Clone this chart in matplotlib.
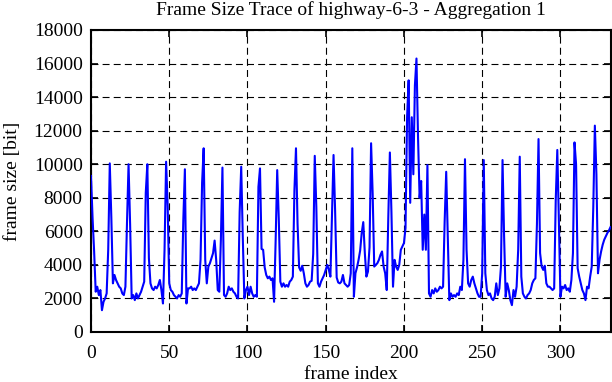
import matplotlib
matplotlib.use("Agg")
import matplotlib.pyplot as plt
import numpy as np

title = "Frame Size Trace of highway-6-3 - Aggregation 1"
x_label = "frame index"
y_label = "frame size [bit]"
x_ticks = [0, 50, 100, 150, 200, 250, 300]
y_ticks = [0, 2000, 4000, 6000, 8000, 10000, 12000, 14000, 16000, 18000]

frame_size = [
    # 0-9
    9300, 6800, 4800, 2400, 2700, 2200, 2500, 1300, 1800, 2000,
    # 10-19
    2300, 4900, 10050, 6800, 2900, 3400, 3100, 2900, 2700, 2600,
    # 20-29
    2300, 2200, 2700, 6500, 10000, 6400, 2000, 2200, 1900, 2300,
    # 30-39
    2000, 2200, 2400, 2700, 3000, 8300, 10000, 4400, 2900, 2600,
    # 40-49
    2500, 2700, 2600, 2800, 3100, 2500, 1700, 4900, 10150, 7500,
    # 50-59
    2900, 2500, 2400, 2200, 2100, 2000, 2200, 2100, 2300, 6700,
    # 60-69
    9700, 1700, 2600, 2600, 2700, 2500, 2600, 2500, 2700, 2900,
    # 70-79
    4300, 8900, 10950, 4300, 2900, 3900, 4100, 4400, 4700, 5450,
    # 80-89
    4300, 2500, 2400, 5500, 9800, 2200, 2100, 2300, 2700, 2500,
    # 90-99
    2600, 2400, 2300, 2100, 2000, 7150, 9850, 5650, 2000, 2500,
    # 100-109
    2700, 2200, 2700, 2300, 2100, 2200, 2100, 8650, 9750, 4950,
    # 110-119
    4900, 3850, 3400, 3200, 3300, 3100, 3200, 1800, 5450, 9650,
    # 120-129
    6750, 3000, 2700, 2900, 2700, 2800, 2700, 3000, 3100, 3300,
    # 130-139
    8450, 10950, 6450, 3850, 3650, 3950, 3500, 2900, 2700, 2800,
    # 140-149
    3000, 3050, 4650, 10500, 7450, 2900, 2700, 3000, 3200, 3400,
    # 150-159
    3700, 4000, 3700, 3300, 6850, 10550, 7250, 3250, 2950, 2900,
    # 160-169
    3000, 3400, 2900, 2800, 2700, 2800, 3500, 10950, 2100, 3500,
    # 170-179
    3850, 4300, 4850, 5900, 6550, 4700, 3300, 3600, 5050, 11250,
    # 180-189
    8250, 3900, 4000, 4100, 4300, 4600, 4800, 3900, 3500, 2500,
    # 190-199
    6850, 10700, 7150, 2700, 4300, 3900, 3700, 4000, 4900, 5100,
    # 200-209
    5300, 6200, 12800, 15000, 7700, 12800, 9400, 14700, 16300, 11600,
    # 210-219
    8000, 9000, 4900, 7000, 4900, 9950, 2300, 2100, 2500, 2300,
    # 220-229
    2600, 2400, 2500, 2700, 2600, 2700, 6550, 9550, 5650, 1900,
    # 230-239
    2300, 2100, 2200, 2100, 2300, 2200, 2700, 2500, 4300, 10300,
    # 240-249
    4900, 2900, 2700, 3100, 3300, 2900, 2600, 2300, 2100, 2100,
    # 250-259
    3500, 10250, 3500, 2500, 2200, 2300, 2000, 1900, 2100, 2900,
    # 260-269
    2200, 2600, 3900, 10250, 5700, 2100, 2900, 2500, 1900, 1600,
    # 270-279
    2500, 2100, 2700, 4900, 10450, 3300, 2300, 2100, 2000, 2200,
    # 280-289
    2300, 2500, 2900, 3100, 3200, 6450, 11500, 4700, 3900, 3700,
    # 290-299
    3950, 2900, 2700, 2700, 2600, 2500, 2600, 7850, 10850, 6650,
    # 300-309
    2100, 2700, 2600, 2800, 2500, 2600, 2400, 3100, 4700, 11300,
    # 310-319
    10000, 3800, 3300, 2900, 2500, 2300, 1900, 2700, 2600, 3300,
    # 320-329
    3900, 7450, 12300, 9400, 3500, 4300, 4800, 5200, 5500, 5700,
    # 330-332
    5900, 6050, 6250,
]

frames = np.arange(len(frame_size))

plt.rcParams['font.family'] = ['Liberation Serif', 'DejaVu Serif']
plt.rcParams['lines.scale_dashes'] = False

fig = plt.figure(figsize=(6.12, 3.82), dpi=100)
ax = fig.add_axes([91 / 612, 50 / 382, (610.5 - 91) / 612, 302 / 382])

ax.plot(frames, frame_size, color=(0, 0, 1), lw=1.5, zorder=3)

ax.set_xlim(0, len(frame_size) - 1)
ax.set_ylim(0, 18000)
ax.set_xticks(x_ticks)
ax.set_yticks(y_ticks)
ax.set_xticklabels([str(t) for t in x_ticks], fontsize=14)
ax.set_yticklabels([str(t) for t in y_ticks], fontsize=14)

ax.grid(True, color='black', linestyle=(0, (5, 3)), linewidth=0.8, zorder=1)
ax.tick_params(direction='in', length=5, width=1.2, top=True, right=True,
               colors='black')
ax.tick_params(axis='x', pad=9)
ax.tick_params(axis='y', pad=6)
for sp in ax.spines.values():
    sp.set_linewidth(1.5)

ax.set_title(title, fontsize=14, pad=11)
ax.set_xlabel(x_label, fontsize=14, labelpad=3)
ax.set_ylabel(y_label, fontsize=14, labelpad=9)

fig.savefig("out.png", dpi=100)
